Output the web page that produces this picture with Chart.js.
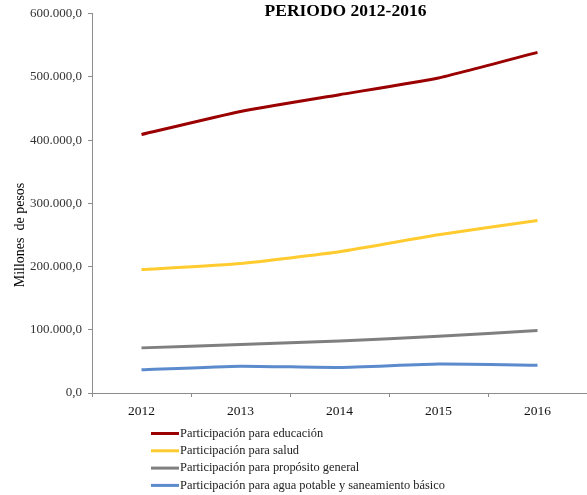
<!DOCTYPE html>
<html>
<head>
<meta charset="utf-8">
<script src="https://cdn.jsdelivr.net/npm/chart.js@4"></script>
<style>
  html, body { margin: 0; padding: 0; background: #fff; }
  #wrap { position: relative; width: 587px; height: 495px; }
</style>
</head>
<body>
<div id="wrap"><canvas id="c" width="587" height="495"></canvas></div>
<script>
const years = ['2012', '2013', '2014', '2015', '2016'];
const educacion = [409000, 445500, 472000, 498500, 539000];
const salud = [195300, 205000, 223500, 250400, 273000];
const propositoGeneral = [71400, 76600, 82400, 89800, 98700];
const aguaPotable = [36700, 42500, 40400, 45700, 44100];
const seriesLabels = [
  'Participación para educación',
  'Participación para salud',
  'Participación para propósito general',
  'Participación para agua potable y saneamiento básico'
];
const seriesColors = ['#9a0000', '#ffcb2f', '#7f7f7f', '#5b8bcc'];
const titleText = 'PERIODO 2012-2016';
const yTitleText = 'Millones  de pesos';

const serif = '"Liberation Serif", "Times New Roman", serif';

const fmt = v => {
  const s = Math.round(v).toString().replace(/\B(?=(\d{3})+(?!\d))/g, '.');
  return s + ',0';
};

const overlay = {
  id: 'overlay',
  afterDraw(chart) {
    const ctx = chart.ctx;
    ctx.save();
    // title
    ctx.fillStyle = '#000';
    ctx.font = 'bold 17.5px ' + serif;
    ctx.textAlign = 'center';
    ctx.textBaseline = 'alphabetic';
    ctx.fillText(titleText, 345.5, 16);
    // y title
    ctx.save();
    ctx.translate(24, 235);
    ctx.rotate(-Math.PI / 2);
    ctx.font = '14px ' + serif;
    ctx.textAlign = 'center';
    ctx.fillText(yTitleText, 0, 0);
    ctx.restore();
    // legend
    ctx.font = '12.4px ' + serif;
    ctx.textAlign = 'left';
    ctx.textBaseline = 'middle';
    chart.data.datasets.forEach((ds, i) => {
      const y = 433.5 + i * 17.3;
      ctx.strokeStyle = ds.borderColor;
      ctx.lineWidth = 3;
      ctx.beginPath();
      ctx.moveTo(151, y);
      ctx.lineTo(179, y);
      ctx.stroke();
      ctx.fillStyle = '#222';
      ctx.fillText(ds.label, 180, y);
    });
    ctx.restore();
  }
};

const dataArrays = [educacion, salud, propositoGeneral, aguaPotable];

new Chart(document.getElementById('c'), {
  type: 'line',
  data: {
    labels: years,
    datasets: dataArrays.map((d, i) => ({
      label: seriesLabels[i],
      data: d,
      borderColor: seriesColors[i],
      backgroundColor: seriesColors[i],
      borderWidth: 3,
      pointRadius: 0,
      tension: 0.15,
      fill: false
    }))
  },
  options: {
    responsive: false,
    animation: false,
    devicePixelRatio: 1,
    layout: { padding: { top: 12, right: 0, left: 0, bottom: 0 } },
    plugins: {
      legend: { display: false },
      title: { display: false },
      tooltip: { enabled: false }
    },
    scales: {
      x: {
        offset: true,
        grid: { display: true, drawOnChartArea: false, drawTicks: true, tickLength: 4, color: '#8c8c8c', offset: true },
        border: { display: true, color: '#8c8c8c', width: 1 },
        ticks: { color: '#111', font: { family: serif, size: 13.5 }, padding: 6, maxRotation: 0 },
        afterFit(scale) { scale.height = 102; }
      },
      y: {
        min: 0,
        max: 600000,
        grid: { display: true, drawOnChartArea: false, drawTicks: true, tickLength: 4, color: '#8c8c8c' },
        border: { display: true, color: '#8c8c8c', width: 1 },
        ticks: {
          stepSize: 100000,
          color: '#333',
          font: { family: serif, size: 13 },
          padding: 6,
          callback: v => fmt(v)
        },
        afterFit(scale) { scale.width = 92; }
      }
    }
  },
  plugins: [overlay]
});
</script>
</body>
</html>
